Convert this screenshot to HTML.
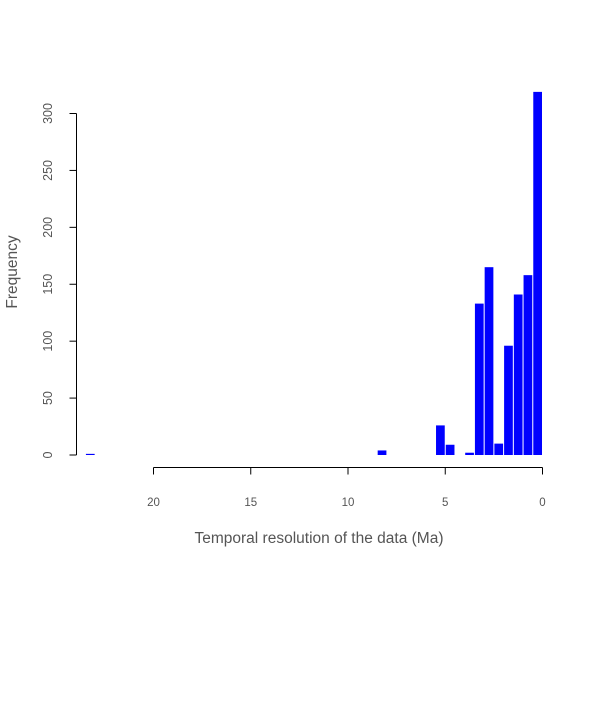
<!DOCTYPE html>
<html><head><meta charset="utf-8"><style>
body{margin:0;background:#fff}
svg text{font-family:"Liberation Sans",sans-serif;fill:#555}
</style></head><body>
<svg width="600" height="700">
<g id="bars"></g>
<g id="axes"></g>
<text x="319" y="543" font-size="15.5" text-anchor="middle">Temporal resolution of the data (Ma)</text>
<text transform="translate(17,272) rotate(-90)" font-size="15.5" text-anchor="middle">Frequency</text>
</svg>
<script>
const binStarts=[0,0.5,1,1.5,2,2.5,3,3.5,4,4.5,5,8,23];
const counts=[319,158,141,96,10,165,133,2,0,9,26,4,1];
const binWidth=0.5;
const xTicks=[20,15,10,5,0];
const yTicks=[0,50,100,150,200,250,300];
const NS="http://www.w3.org/2000/svg";
const xs=v=>542.5-v*19.45;
const ys=v=>455-v*1.1383;
const bars=document.getElementById('bars');
const axes=document.getElementById('axes');
function mk(tag,attrs,parent){const e=document.createElementNS(NS,tag);for(const k in attrs)e.setAttribute(k,attrs[k]);parent.appendChild(e);return e;}
binStarts.forEach((b,i)=>{
  if(counts[i]<=0)return;
  const x1=xs(b+binWidth),x2=xs(b);
  const r=mk('rect',{x:x1+0.5,y:ys(counts[i]),width:x2-x1-1,height:ys(0)-ys(counts[i]),fill:'#0000ff'},bars);
  
  
});
mk('line',{x1:xs(20),x2:xs(0),y1:467.5,y2:467.5,stroke:'#000'},axes);
xTicks.forEach(t=>{
  mk('line',{x1:xs(t),x2:xs(t),y1:467.5,y2:474.5,stroke:'#000'},axes);
  const tx=mk('text',{x:xs(t),y:506,'font-size':11.5,'text-anchor':'middle'},axes);
  tx.textContent=t;
  
  
});
mk('line',{x1:76.5,x2:76.5,y1:ys(0),y2:ys(300),stroke:'#000'},axes);
yTicks.forEach(t=>{
  mk('line',{x1:69.5,x2:76.5,y1:ys(t),y2:ys(t),stroke:'#000'},axes);
  const tx=mk('text',{transform:`translate(52,${ys(t)}) rotate(-90)`,'font-size':12.5,'text-anchor':'middle'},axes);
  tx.textContent=t;
  
  
});
</script>
</body></html>
